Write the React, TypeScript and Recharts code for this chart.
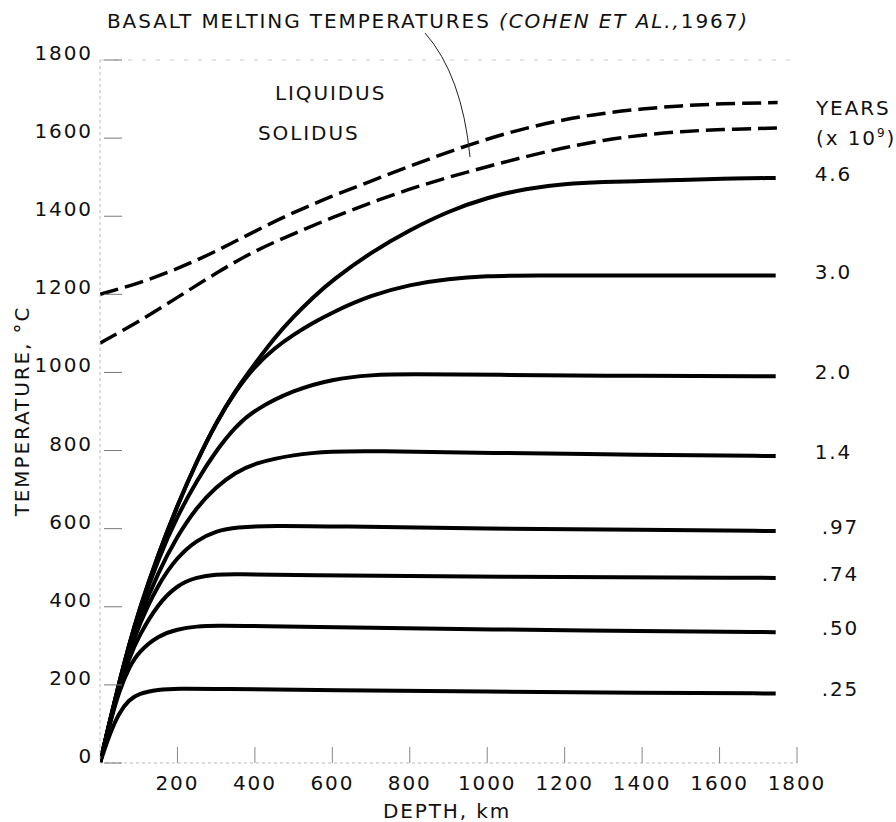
import React from 'react';
import { LineChart, Line, XAxis, YAxis, ReferenceLine } from 'recharts';

// depth (km), temperature (°C)
const liquidus = [[0, 1200], [100, 1228], [200, 1265], [300, 1310], [400, 1362], [500, 1410], [600, 1452], [700, 1490], [800, 1528], [900, 1565], [1000, 1598], [1100, 1626], [1200, 1648], [1300, 1664], [1400, 1675], [1500, 1683], [1600, 1688], [1750, 1691]];
const solidus = [[0, 1075], [100, 1130], [200, 1192], [300, 1255], [400, 1312], [500, 1355], [600, 1397], [700, 1435], [800, 1470], [900, 1500], [1000, 1527], [1100, 1553], [1200, 1576], [1300, 1595], [1400, 1608], [1500, 1617], [1600, 1622], [1750, 1626]];

const c025 = [[0, 0], [25, 75], [50, 130], [75, 162], [100, 178], [150, 188], [200, 191], [300, 190], [600, 186], [1000, 183], [1400, 180], [1745, 178]];
const c050 = [[0, 0], [25, 100], [50, 186], [75, 245], [100, 285], [150, 326], [200, 343], [250, 350], [300, 352], [400, 351], [700, 346], [1000, 342], [1400, 338], [1745, 335]];
const c074 = [[0, 0], [25, 102], [50, 194], [75, 268], [100, 325], [150, 408], [200, 456], [250, 476], [300, 483], [350, 484], [500, 481], [1000, 477], [1745, 474]];
const c097 = [[0, 0], [25, 104], [50, 199], [75, 282], [100, 352], [150, 458], [200, 528], [250, 571], [300, 594], [350, 604], [450, 608], [600, 606], [1000, 600], [1400, 597], [1745, 594]];
const c14 = [[0, 0], [25, 105], [50, 203], [75, 292], [100, 368], [150, 488], [200, 582], [250, 655], [300, 707], [350, 744], [400, 768], [500, 790], [600, 798], [700, 799], [1000, 794], [1400, 789], [1745, 786]];
const c20 = [[0, 0], [25, 106], [50, 207], [75, 300], [100, 384], [150, 522], [200, 633], [250, 723], [300, 800], [350, 862], [400, 905], [500, 955], [600, 983], [700, 994], [800, 996], [1000, 994], [1400, 991], [1745, 990]];
const c30 = [[0, 0], [25, 106], [50, 208], [75, 302], [100, 389], [150, 534], [200, 660], [250, 773], [300, 872], [350, 952], [400, 1016], [450, 1062], [500, 1097], [550, 1127], [600, 1154], [700, 1198], [800, 1225], [900, 1240], [1000, 1247], [1100, 1249], [1400, 1248], [1745, 1248]];
const c46 = [[0, 0], [25, 106], [50, 208], [75, 302], [100, 389], [150, 534], [200, 660], [250, 773], [300, 872], [350, 955], [400, 1022], [450, 1088], [500, 1143], [550, 1192], [600, 1236], [700, 1308], [800, 1365], [900, 1413], [1000, 1448], [1100, 1471], [1200, 1483], [1300, 1488], [1400, 1490], [1500, 1493], [1600, 1496], [1745, 1498]];

const ageLabels = ['4.6', '3.0', '2.0', '1.4', '.97', '.74', '.50', '.25'];
const ageCurves = [c46, c30, c20, c14, c097, c074, c050, c025];

const xTicks = [200, 400, 600, 800, 1000, 1200, 1400, 1600, 1800];
const yTicks = [0, 200, 400, 600, 800, 1000, 1200, 1400, 1600, 1800];

const FONT = "'DejaVu Sans', sans-serif";
const txt = { fontFamily: FONT, fontSize: 20, letterSpacing: 1.9, fill: '#111' };

const toPts = (arr: number[][]) => arr.map(([d, t]) => ({ depth: d, temp: t }));

function XTick({ x, y, payload }: any) {
  return (
    <g>
      <line x1={x} x2={x} y1={y} y2={y - 16} stroke="#888" strokeWidth={1} />
      <text x={x} y={y + 27} textAnchor="middle" style={txt}>{payload.value}</text>
    </g>
  );
}

function YTick({ x, y, payload }: any) {
  return (
    <g>
      <line x1={x + 4} x2={x + 22} y1={y} y2={y} stroke="#777" strokeWidth={1} />
      <text x={x - 7} y={y} textAnchor="end" style={txt}>{payload.value}</text>
    </g>
  );
}

const endLabel = (name: string, last: number) => (p: any) => {
  if (p.index !== last) return null;
  const dx = name.startsWith('.') ? 46 : 39;
  return (
    <text key={name} x={p.x + dx} y={p.y - 4} dominantBaseline="central" style={txt}>{name}</text>
  );
};

export default function App() {
  return (
    <div style={{ position: 'absolute', left: 0, top: 0, width: 896, height: 822, background: '#fff' }}>
      <LineChart width={896} height={822} margin={{ top: 60, right: 99, bottom: 0, left: 0 }}>
        <XAxis
          dataKey="depth"
          type="number"
          domain={[0, 1800]}
          ticks={xTicks}
          height={59}
          tickSize={0}
          tickMargin={0}
          tick={<XTick />}
          axisLine={{ stroke: '#bbb', strokeDasharray: '3 3' }}
          allowDataOverflow
        />
        <YAxis
          dataKey="temp"
          type="number"
          domain={[0, 1800]}
          ticks={yTicks}
          width={100}
          tickSize={0}
          tickMargin={0}
          tick={<YTick />}
          axisLine={{ stroke: '#bbb', strokeDasharray: '3 3' }}
          allowDataOverflow
        />
        <ReferenceLine y={1800} stroke="#ccc" strokeDasharray="4 10" />
        <Line data={toPts(liquidus)} dataKey="temp" type="basis" stroke="#000" strokeWidth={3.5}
          strokeDasharray="19 7" dot={false} activeDot={false} isAnimationActive={false} />
        <Line data={toPts(solidus)} dataKey="temp" type="basis" stroke="#000" strokeWidth={3.5}
          strokeDasharray="19 7" dot={false} activeDot={false} isAnimationActive={false} />
        {ageCurves.map((c, i) => (
          <Line key={ageLabels[i]} data={toPts(c)} dataKey="temp" type="basis" stroke="#000"
            strokeWidth={4} dot={false} activeDot={false} isAnimationActive={false}
            label={endLabel(ageLabels[i], c.length - 1)} />
        ))}
      </LineChart>
      <svg width={896} height={822} style={{ position: 'absolute', left: 0, top: 0, pointerEvents: 'none' }}>
        <text x={107} y={28} style={txt}>
          BASALT MELTING TEMPERATURES{' '}
          <tspan fontStyle="italic">(COHEN ET AL.,</tspan>
          <tspan>1967</tspan>
          <tspan fontStyle="italic">)</tspan>
        </text>
        <path d="M425,33 Q462,75 470,157" fill="none" stroke="#222" strokeWidth={1} />
        <text x={275} y={100} style={txt}>LIQUIDUS</text>
        <text x={258} y={140} style={txt}>SOLIDUS</text>
        <text x={816} y={115} style={txt}>YEARS</text>
        <text x={816} y={145} style={txt}>
          (x 10<tspan fontSize={12} dy={-8}>9</tspan><tspan dy={8}>)</tspan>
        </text>
        <text x={22} y={411} textAnchor="middle" dominantBaseline="central" transform="rotate(-90 22 411)" style={txt}>
          TEMPERATURE, °C
        </text>
        <text x={447} y={818} textAnchor="middle" style={txt}>DEPTH, km</text>
      </svg>
    </div>
  );
}
